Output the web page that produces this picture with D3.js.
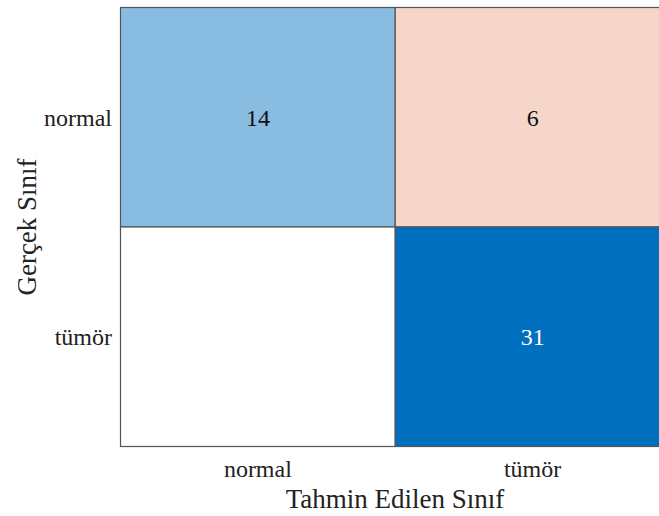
<!DOCTYPE html>
<html><head><meta charset="utf-8">
<script src="https://cdn.jsdelivr.net/npm/d3@7"></script>
<style>body{margin:0;background:#fff;overflow:hidden}svg{display:block}text{font-family:"Liberation Serif","Times New Roman",serif;}</style>
</head><body>
<script>
const trueClasses = ["normal", "tümör"];
const predClasses = ["normal", "tümör"];
const counts = [[14, 6], [0, 31]];
const xLabel = "Tahmin Edilen Sınıf";
const yLabel = "Gerçek Sınıf";

const W = 659, H = 516;
const m = {left: 120.5, top: 7.5, right: -11, bottom: 69.5};
const svg = d3.select("body").append("svg").attr("width", W).attr("height", H);
const x = d3.scaleBand().domain(predClasses).range([m.left, W - m.right]);
const y = d3.scaleBand().domain(trueClasses).range([m.top, H - m.bottom]);
const maxV = d3.max(counts.flat());
const diagColor = d3.scaleLinear().domain([0, 30]).range(["#ffffff", "#0070BE"]).clamp(true);
const offColor = d3.scaleLinear().domain([0, 25]).range(["#ffffff", "#D95319"]).clamp(true);

const cells = [];
trueClasses.forEach((t, i) => predClasses.forEach((p, j) => cells.push({t, p, v: counts[i][j], diag: i === j})));

svg.selectAll("rect.cell").data(cells).join("rect").attr("class", "cell")
  .attr("x", d => x(d.p)).attr("y", d => y(d.t))
  .attr("width", x.bandwidth()).attr("height", y.bandwidth())
  .attr("fill", d => d.v === 0 ? "#fff" : (d.diag ? diagColor(d.v) : offColor(d.v)))
  .attr("stroke", "#555").attr("stroke-width", 1.2);

svg.selectAll("text.val").data(cells.filter(d => d.v > 0)).join("text").attr("class", "val")
  .attr("x", d => x(d.p) + x.bandwidth() / 2).attr("y", d => y(d.t) + y.bandwidth() / 2)
  .attr("text-anchor", "middle").attr("dy", "0.35em").attr("font-size", 24)
  .attr("fill", d => d.diag && d.v / maxV > 0.6 ? "#fff" : "#111").text(d => d.v);

svg.selectAll("text.ytick").data(trueClasses).join("text").attr("class", "ytick")
  .attr("x", 112).attr("y", d => y(d) + y.bandwidth() / 2).attr("dy", "0.35em")
  .attr("text-anchor", "end").attr("font-size", 24).attr("fill", "#222").text(d => d);

svg.selectAll("text.xtick").data(predClasses).join("text").attr("class", "xtick")
  .attr("x", d => x(d) + x.bandwidth() / 2).attr("y", 477)
  .attr("text-anchor", "middle").attr("font-size", 24).attr("fill", "#222").text(d => d);

svg.append("text").attr("x", 395).attr("y", 508).attr("text-anchor", "middle")
  .attr("font-size", 27).attr("fill", "#222").text(xLabel);

svg.append("text").attr("transform", `translate(36,${(m.top + H - m.bottom) / 2}) rotate(-90)`)
  .attr("text-anchor", "middle").attr("font-size", 27).attr("fill", "#222").text(yLabel);
</script>
</body></html>
